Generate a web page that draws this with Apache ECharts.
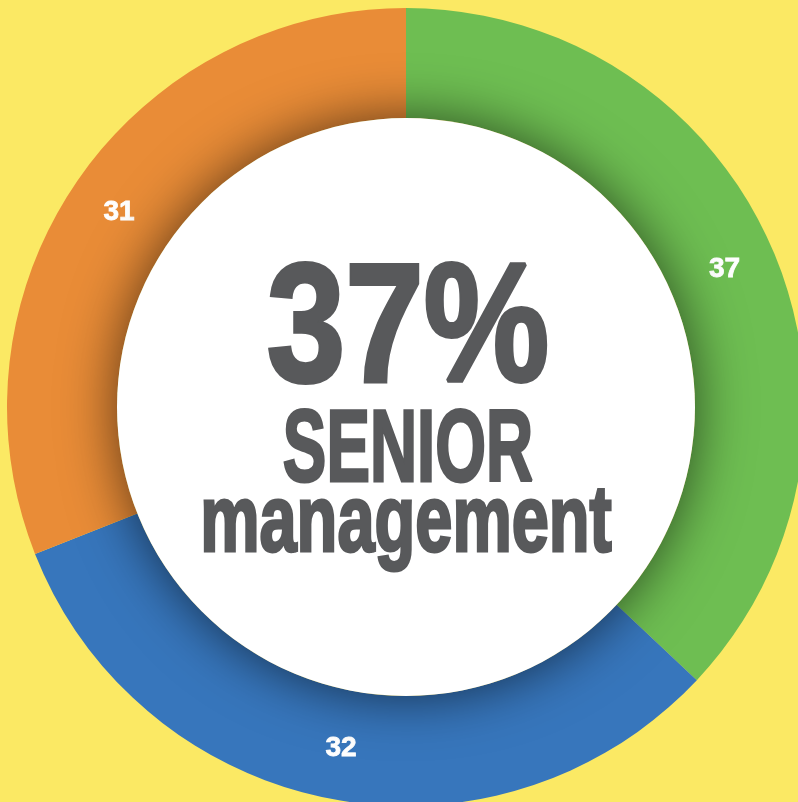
<!DOCTYPE html>
<html>
<head>
    <meta charset="utf-8">
    <title>Senior management</title>
    <script src="https://cdn.jsdelivr.net/npm/echarts@6/dist/echarts.min.js"></script>
    <style>
        html, body { margin: 0; padding: 0; background: #fbe964; }
        #chart1 { width: 798px; height: 802px; }
    </style>
</head>
<body>
<div id="chart1"></div>
<script>
    // 数据
    var categories = ['Senior', 'Middle', 'Junior'];
    var values = [37, 32, 31];
    var colors = ['#6ebe52', '#3776bc', '#e98c37'];
    var headline = ['37%', 'SENIOR', 'management'];

    var cx = 406, cy = 407;
    var textColor = '#58595b';

    var myChart1 = echarts.init(document.getElementById('chart1'));
    myChart1.setOption({
        backgroundColor: '#fbe964',
        animation: false,
        series: [{
            type: 'pie',
            center: [cx, cy],
            radius: [289, 399],
            startAngle: 90,
            clockwise: true,
            silent: true,
            data: categories.map(function (c, i) {
                return { name: c, value: values[i], itemStyle: { color: colors[i] } };
            }),
            label: {
                show: true,
                position: 'inside',
                formatter: '{c}',
                color: '#fff',
                fontSize: 28,
                fontWeight: 'bold',
                fontFamily: 'Liberation Sans, Arial, sans-serif',
                textBorderColor: '#fff',
                textBorderWidth: 0.8
            },
            labelLine: { show: false }
        }],
        graphic: [
            {
                type: 'circle',
                z: 10,
                shape: { cx: cx, cy: cy, r: 289 },
                style: { fill: '#fff', shadowBlur: 55, shadowColor: 'rgba(0,0,0,0.62)' },
                silent: true
            },
            {
                type: 'text', z: 11, x: 408, y: 335, scaleX: 0.84, silent: true,
                style: {
                    text: headline[0], fill: textColor, align: 'center', verticalAlign: 'middle',
                    stroke: textColor, lineWidth: 4,
                    font: 'bold 168px "Liberation Sans", Arial, sans-serif'
                }
            },
            {
                type: 'text', z: 11, x: 408, y: 453, scaleX: 0.64, silent: true,
                style: {
                    text: headline[1], fill: textColor, align: 'center', verticalAlign: 'middle',
                    stroke: textColor, lineWidth: 3,
                    font: 'bold 102px "Liberation Sans", Arial, sans-serif'
                }
            },
            {
                type: 'text', z: 11, x: 406, y: 525, scaleX: 0.71, silent: true,
                style: {
                    text: headline[2], fill: textColor, align: 'center', verticalAlign: 'middle',
                    stroke: textColor, lineWidth: 3,
                    font: 'bold 94px "Liberation Sans", Arial, sans-serif'
                }
            }
        ]
    });
</script>
</body>
</html>
